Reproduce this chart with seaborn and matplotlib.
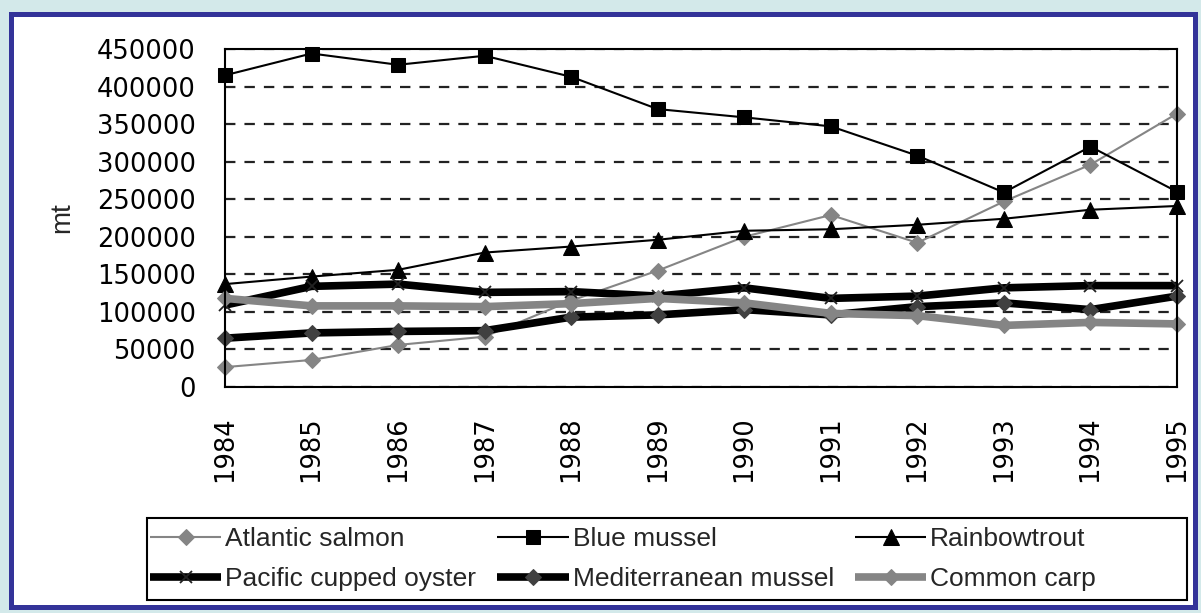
import matplotlib
matplotlib.use("Agg")
import matplotlib.pyplot as plt
from matplotlib.patches import Rectangle
import seaborn as sns
import pandas as pd

# ---- data ----
years = [1984, 1985, 1986, 1987, 1988, 1989, 1990, 1991, 1992, 1993, 1994, 1995]
year_labels = [str(y) for y in years]
atlantic_salmon = [26500, 36000, 56000, 67000, 115000, 155000, 200000, 229000, 192000, 247000, 296000, 364000]
blue_mussel = [415000, 444000, 429000, 441000, 413000, 370000, 359000, 347000, 308000, 259000, 320000, 260000]
rainbow_trout = [137000, 147000, 156000, 179000, 187000, 196000, 208000, 210000, 216000, 224000, 236000, 241000]
pacific_oyster = [109000, 134000, 137000, 126000, 127000, 121000, 132000, 118000, 121000, 132000, 135000, 135000]
med_mussel = [65000, 72000, 74000, 75000, 93000, 96000, 103000, 96000, 107000, 112000, 103000, 121000]
common_carp = [118000, 108000, 108000, 107000, 111000, 118000, 112000, 98000, 95000, 82000, 86000, 84000]
series_names = ["Atlantic salmon", "Blue mussel", "Rainbowtrout",
                "Pacific cupped oyster", "Mediterranean mussel", "Common carp"]
y_ticks = [0, 50000, 100000, 150000, 200000, 250000, 300000, 350000, 400000, 450000]
y_tick_labels = [str(v) for v in y_ticks]

series_values = [atlantic_salmon, blue_mussel, rainbow_trout, pacific_oyster, med_mussel, common_carp]
df = pd.DataFrame({"year": years * len(series_names),
                   "value": sum(series_values, []),
                   "series": [n for n in series_names for _ in years]})

# ---- style ----
sns.set_style("white")
plt.rcParams["font.family"] = ["Liberation Sans", "DejaVu Sans"]
plt.rcParams["lines.scale_dashes"] = False
plt.rcParams["lines.solid_capstyle"] = "butt"
plt.rcParams["lines.solid_joinstyle"] = "miter"

styles = {
    "Atlantic salmon": dict(color="#858585", linewidth=1.5, marker="D", markersize=8,
                            markerfacecolor="#858585", markeredgecolor="#858585"),
    "Blue mussel": dict(color="black", linewidth=1.5, marker="s", markersize=10.5,
                        markerfacecolor="black", markeredgecolor="black"),
    "Rainbowtrout": dict(color="black", linewidth=1.5, marker="^", markersize=11,
                         markerfacecolor="black", markeredgecolor="black"),
    "Pacific cupped oyster": dict(color="black", linewidth=5.5, marker="x", markersize=8,
                                  markeredgewidth=1.3, markeredgecolor="#222222"),
    "Mediterranean mussel": dict(color="black", linewidth=5.5, marker="D", markersize=8,
                                 markerfacecolor="#404040", markeredgecolor="#404040"),
    "Common carp": dict(color="#858585", linewidth=5.5, marker="D", markersize=8.5,
                        markerfacecolor="#858585", markeredgecolor="#858585"),
}

W, H = 1201, 613
fig = plt.figure(figsize=(W / 100, H / 100), dpi=100)
fig.patch.set_facecolor("#d3e9ea")

# white panel with dark-blue frame
fig.patches.append(Rectangle((10.5 / W, 1 - 606.5 / H), 1184 / W, 593 / H,
                             transform=fig.transFigure, facecolor="white",
                             edgecolor="#333399", linewidth=3.6, zorder=-10))

ax = fig.add_axes([225 / W, 1 - 387 / H, 952 / W, 338 / H])
ax.set_zorder(2)
ax.set_facecolor("white")

for name in series_names:
    sub = df[df["series"] == name]
    sns.lineplot(data=sub, x="year", y="value", ax=ax, label=name,
                 estimator=None, sort=False, **styles[name])

for ln in ax.get_lines():
    ln.set_clip_on(False)
    ln.set_solid_capstyle("butt")

ax.set_xlim(years[0], years[-1])
ax.set_ylim(y_ticks[0], y_ticks[-1])
ax.set_xticks(years)
ax.set_xticklabels(year_labels, rotation=90, fontfamily="DejaVu Sans", fontsize=18.5)
ax.set_yticks(y_ticks)
ax.set_yticklabels(y_tick_labels, fontfamily="DejaVu Sans", fontsize=18.5)
ax.tick_params(axis="both", direction="inout", length=14, width=1.5, colors="black", pad=14)

ax.yaxis.grid(True, color="#222222", linewidth=1.6, linestyle=(0, (7.5, 6.5)))
ax.xaxis.grid(False)
ax.set_axisbelow(True)
for s in ax.spines.values():
    s.set_visible(True)
    s.set_color("black")
    s.set_linewidth(1.5)

ax.set_xlabel("")
ax.set_ylabel("mt", fontsize=20)
ax.yaxis.set_label_coords((75 - 225) / 952, 0.5)

# legend in Excel row-wise order
handles, labels = ax.get_legend_handles_labels()
ax.get_legend().remove()
order = [0, 3, 1, 4, 2, 5]
fig.patches.append(Rectangle((147 / W, 1 - 600 / H), 1040 / W, 82 / H,
                             transform=fig.transFigure, facecolor="white",
                             edgecolor="black", linewidth=1.5, zorder=1))
leg = fig.legend([handles[i] for i in order], [labels[i] for i in order],
                 ncol=3, loc="upper left", bbox_to_anchor=(150 / W, 1 - 527 / H),
                 bbox_transform=fig.transFigure, frameon=False, borderpad=0,
                 borderaxespad=0, handlelength=2.7, handletextpad=0.15,
                 columnspacing=0.8, labelspacing=0.62, fontsize=19, numpoints=1)
leg.set_zorder(3)
for h in leg.legend_handles:
    try:
        h.set_solid_capstyle("butt")
    except AttributeError:
        pass

fig.savefig("out.png", dpi=100, facecolor=fig.get_facecolor())
